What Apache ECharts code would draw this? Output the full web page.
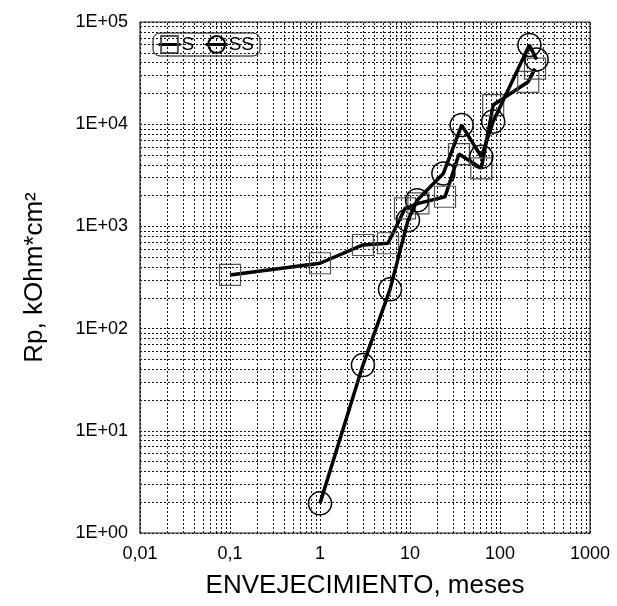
<!DOCTYPE html>
<html>
<head>
<meta charset="utf-8">
<script src="https://cdn.jsdelivr.net/npm/echarts@6/dist/echarts.min.js"></script>
<style>
html,body{margin:0;padding:0;background:#fff;}
#chart{width:617px;height:606px;}
</style>
</head>
<body>
<div id="chart"></div>
<script>
// ---- data ----
const sX = [0.1, 1, 3, 5.7, 8.8, 12.4, 24.5, 35, 62, 84, 206, 245];
const sY = [335, 436, 658, 684, 1500, 1680, 1950, 5100, 3700, 15400, 26000, 35000];
const ssX = [1, 3, 6, 9.5, 12, 23.5, 37.5, 62, 84, 212, 255];
const ssY = [1.95, 44, 242, 1150, 1800, 3300, 9800, 4800, 10600, 59600, 43000];
const xTickLabels = ['0,01', '0,1', '1', '10', '100', '1000'];
const yTickLabels = ['1E+00', '1E+01', '1E+02', '1E+03', '1E+04', '1E+05'];
const seriesNames = ['S', 'SS'];
const xTitle = 'ENVEJECIMIENTO, meses';
const yTitle = 'Rp, kOhm*cm\u00B2';

// log grid lines (1..9 in each decade)
function logLines(minExp, maxExp) {
  const out = [];
  for (let e = minExp; e < maxExp; e++) {
    for (let k = 1; k <= 9; k++) out.push(k * Math.pow(10, e));
  }
  out.push(Math.pow(10, maxExp));
  return out;
}
const gridStyle = {color: '#111', width: 1, type: [2, 2]};
const gridMark = {
  silent: true, symbol: 'none', label: {show: false},
  lineStyle: gridStyle, animation: false,
  emphasis: {disabled: true},
  data: logLines(-2, 3).map(v => ({xAxis: v})).concat(logLines(0, 5).map(v => ({yAxis: v})))
};

const font = 'Liberation Sans, Arial, Helvetica, sans-serif';
const chart = echarts.init(document.getElementById('chart'), null, {renderer: 'canvas'});
chart.setOption({
  animation: false,
  backgroundColor: '#fff',
  grid: {left: 140, right: 27, top: 22, bottom: 73, show: true, borderColor: '#222', borderWidth: 1.2, backgroundColor: 'transparent'},
  legend: {
    left: 153, top: 33,
    orient: 'horizontal',
    data: seriesNames,
    itemWidth: 22, itemHeight: 21, itemGap: 10,
    lineStyle: {width: 3, color: '#000'},
    textStyle: {fontFamily: font, fontSize: 19, color: '#000', padding: [0, 0, 0, -4]},
    backgroundColor: '#fff', borderColor: '#000', borderWidth: 1, borderRadius: 7,
    padding: [2, 6, 2, 4]
  },
  xAxis: {
    type: 'log', logBase: 10, min: 0.01, max: 1000,
    splitNumber: 5,
    name: xTitle, nameLocation: 'middle', nameGap: 40,
    nameTextStyle: {fontFamily: font, fontSize: 26, color: '#000'},
    axisLine: {show: false}, axisTick: {show: false},
    splitLine: {show: false},
    axisLabel: {
      fontFamily: font, fontSize: 18, color: '#000', margin: 12,
      formatter: v => xTickLabels[Math.round(Math.log10(v)) + 2]
    }
  },
  yAxis: {
    type: 'log', logBase: 10, min: 1, max: 100000,
    splitNumber: 5,
    name: yTitle, nameLocation: 'middle', nameGap: 92,
    nameTextStyle: {fontFamily: font, fontSize: 26, color: '#000'},
    axisLine: {show: false}, axisTick: {show: false},
    splitLine: {show: false},
    axisLabel: {
      fontFamily: font, fontSize: 18, color: '#000', margin: 12,
      formatter: v => yTickLabels[Math.round(Math.log10(v))]
    }
  },
  series: [
    {
      name: 'grid', type: 'line', data: [], silent: true,
      markLine: gridMark, z: 1
    },
    {
      name: seriesNames[0], type: 'line',
      data: sX.map((x, i) => [x, sY[i]]),
      symbol: 'rect', symbolSize: 21, showAllSymbol: true,
      lineStyle: {color: '#000', width: 3.5},
      itemStyle: {color: 'rgba(255,255,255,0)', borderColor: '#555', borderWidth: 1.2},
      z: 3
    },
    {
      name: seriesNames[1], type: 'line',
      data: ssX.map((x, i) => [x, ssY[i]]),
      symbol: 'circle', symbolSize: 23, showAllSymbol: true,
      lineStyle: {color: '#000', width: 3.5},
      itemStyle: {color: 'rgba(255,255,255,0)', borderColor: '#000', borderWidth: 1.5},
      z: 4
    }
  ]
});
</script>
</body>
</html>
